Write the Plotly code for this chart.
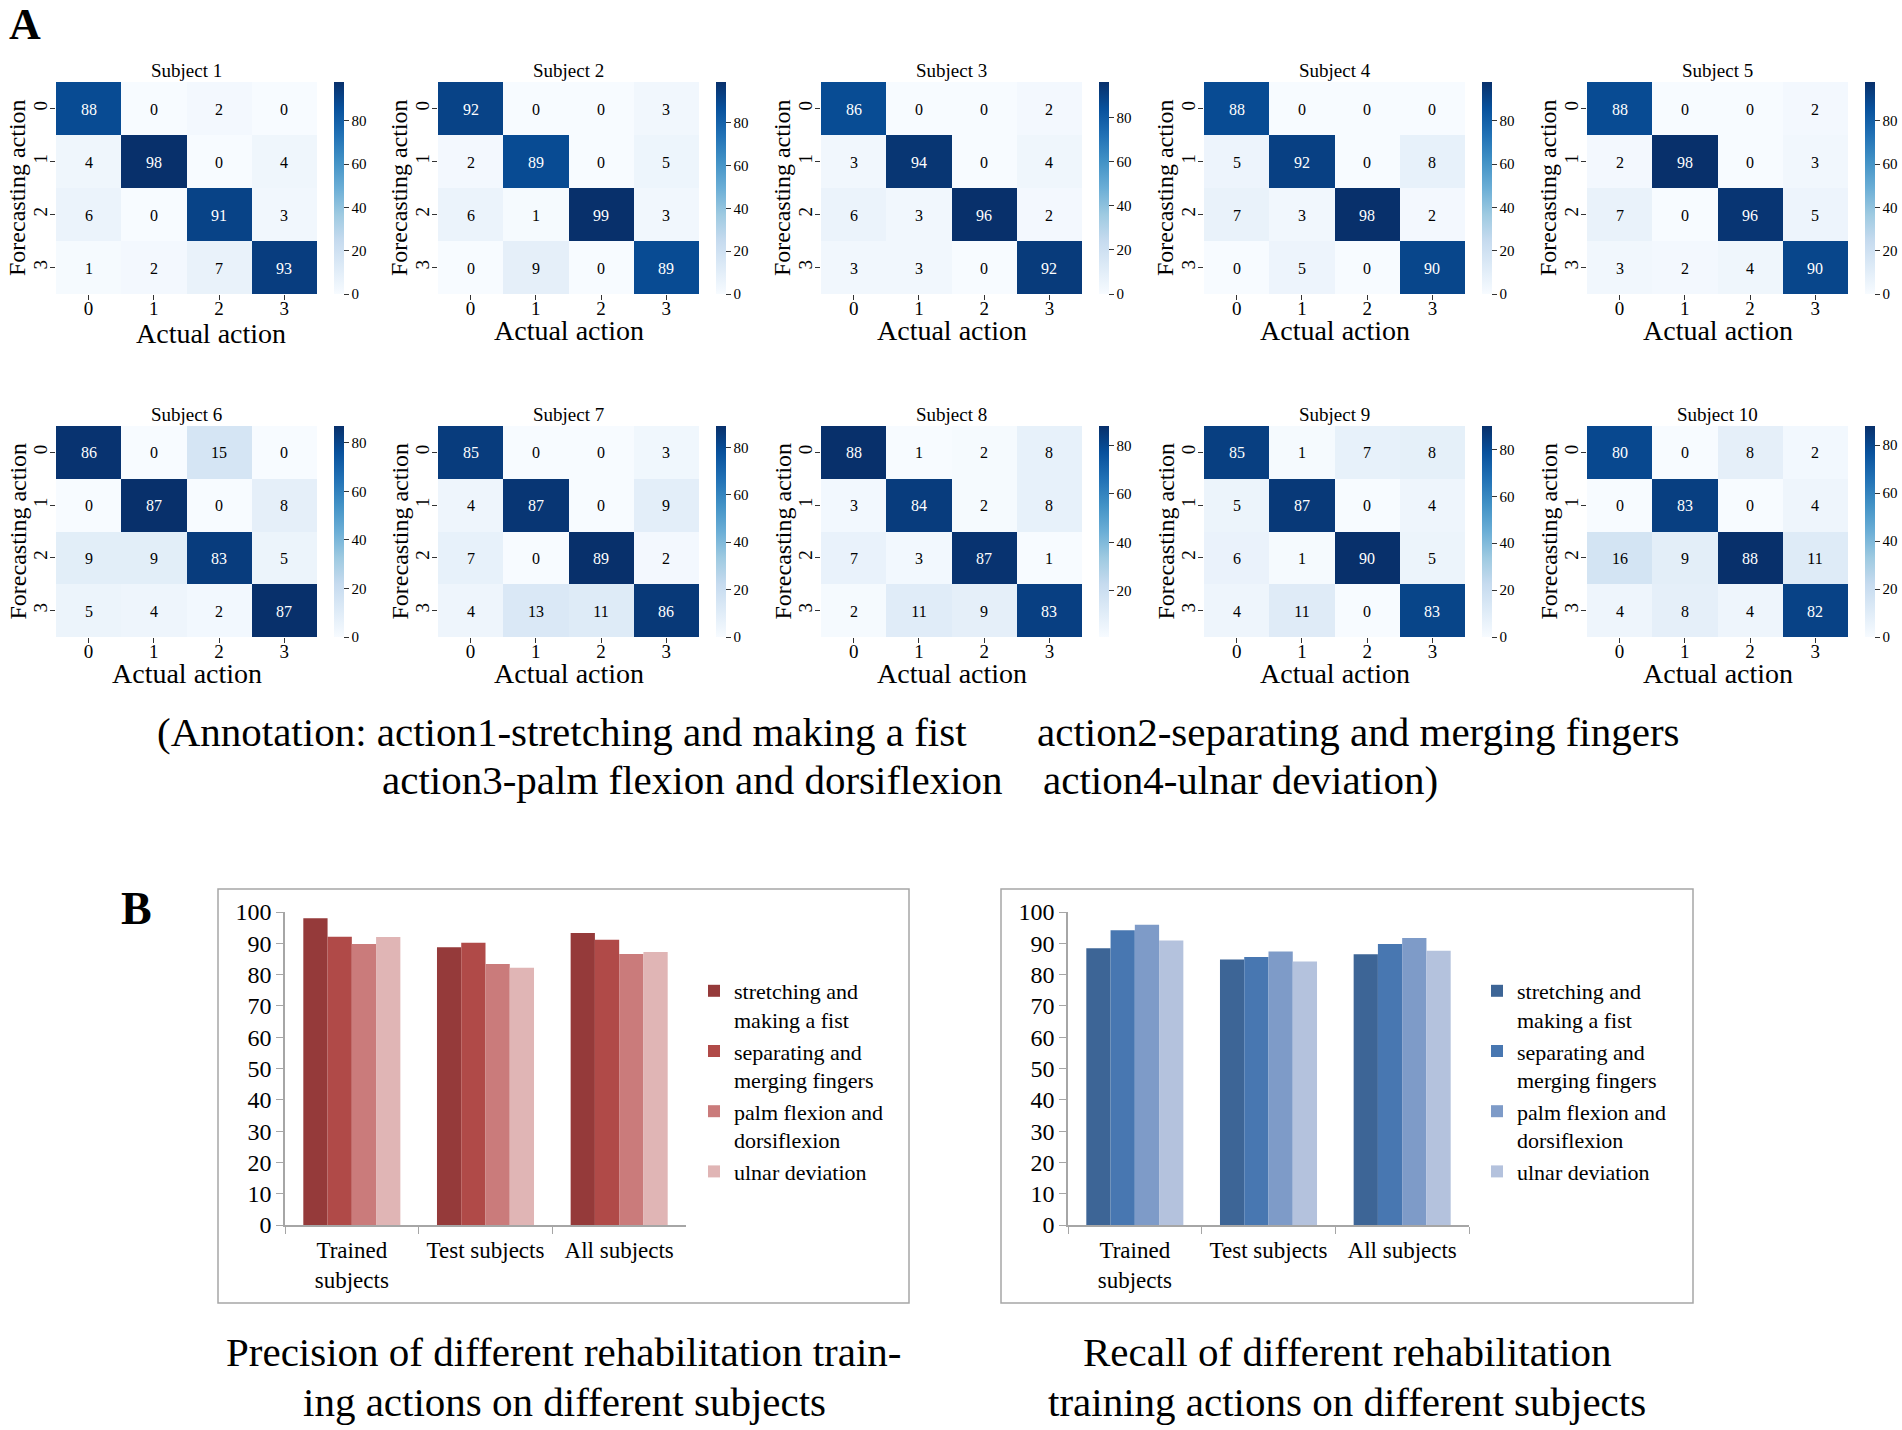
import plotly.graph_objects as go
import plotly.express as px

W = 1902
H = 1430

ticks = [0, 1, 2, 3]

# confusion matrices
subject_1 = [[88, 0, 2, 0], [4, 98, 0, 4], [6, 0, 91, 3], [1, 2, 7, 93]]
subject_2 = [[92, 0, 0, 3], [2, 89, 0, 5], [6, 1, 99, 3], [0, 9, 0, 89]]
subject_3 = [[86, 0, 0, 2], [3, 94, 0, 4], [6, 3, 96, 2], [3, 3, 0, 92]]
subject_4 = [[88, 0, 0, 0], [5, 92, 0, 8], [7, 3, 98, 2], [0, 5, 0, 90]]
subject_5 = [[88, 0, 0, 2], [2, 98, 0, 3], [7, 0, 96, 5], [3, 2, 4, 90]]
subject_6 = [[86, 0, 15, 0], [0, 87, 0, 8], [9, 9, 83, 5], [5, 4, 2, 87]]
subject_7 = [[85, 0, 0, 3], [4, 87, 0, 9], [7, 0, 89, 2], [4, 13, 11, 86]]
subject_8 = [[88, 1, 2, 8], [3, 84, 2, 8], [7, 3, 87, 1], [2, 11, 9, 83]]
subject_9 = [[85, 1, 7, 8], [5, 87, 0, 4], [6, 1, 90, 5], [4, 11, 0, 83]]
subject_10 = [[80, 0, 8, 2], [0, 83, 0, 4], [16, 9, 88, 11], [4, 8, 4, 82]]
subjects = [subject_1, subject_2, subject_3, subject_4, subject_5,
            subject_6, subject_7, subject_8, subject_9, subject_10]

# panel B
groups = ["Trained<br>subjects", "Test subjects", "All subjects"]
action_names = ["stretching and<br>making a fist", "separating and<br>merging fingers",
                "palm flexion and<br>dorsiflexion", "ulnar deviation"]
stretching_precision = [98.0, 88.7, 93.3]
separating_precision = [92.1, 90.2, 91.1]
palm_precision = [89.8, 83.4, 86.6]
ulnar_precision = [92.0, 82.2, 87.2]
stretching_recall = [88.4, 84.8, 86.5]
separating_recall = [94.2, 85.6, 89.8]
palm_recall = [95.9, 87.4, 91.7]
ulnar_recall = [90.9, 84.2, 87.6]

reds = ["#953A3A", "#B04A48", "#CA7B7B", "#E0B5B5"]
blues = ["#3D6596", "#4877B1", "#7E9BC8", "#B4C2DD"]

FONT = "Liberation Serif"
GREY = "#A6A6A6"


def fx(p):
    return p / W


def fy(p):
    return 1 - p / H


fig = go.Figure()
notes = []


def note(text, x, y, size, anchor="center", angle=0, bold=False):
    if bold:
        text = "<b>" + text + "</b>"
    notes.append(dict(text=text, x=fx(x), y=fy(y), xref="paper", yref="paper", showarrow=False,
                      xanchor=anchor, yanchor="middle", textangle=angle,
                      font=dict(family=FONT, size=size, color="black")))


def cell_labels(z):
    # black digits on light cells, white on the dark diagonal
    labels = []
    for line in z:
        labels.append(['<span style="color:%s">%d</span>' % ("white" if v > 50 else "black", v) for v in line])
    return labels


# heatmap left edges in pixels
lefts = [56, 438, 821, 1204, 1587]
tops = [82, 426]
bottoms = [294, 637]
xtitle_y = [330, 673]

for n, z in enumerate(subjects):
    row = n // 5
    left = lefts[n % 5]
    right = left + 261
    suffix = "" if n == 0 else str(n + 1)
    fig.add_trace(go.Heatmap(
        z=z, x=ticks, y=ticks, xaxis="x" + suffix, yaxis="y" + suffix,
        colorscale=px.colors.sequential.Blues,
        text=cell_labels(z), texttemplate="%{text}", textfont=dict(family=FONT, size=16),
        colorbar=dict(x=fx(left + 278), xanchor="left", xpad=0, y=fy(tops[row]), yanchor="top", ypad=0,
                      len=(bottoms[row] - tops[row]) / H, thickness=10, outlinewidth=0,
                      tick0=0, dtick=20, ticks="outside", ticklen=5, tickcolor="#333333",
                      tickfont=dict(family=FONT, size=15, color="black")),
    ))
    axis_style = dict(showgrid=False, zeroline=False, showline=False, ticks="outside", ticklen=5,
                      tickcolor="#333333", tickvals=ticks,
                      tickfont=dict(family=FONT, size=19, color="black"))
    fig.update_layout({
        "xaxis" + suffix: dict(domain=[fx(left), fx(right)], anchor="y" + suffix, ticklabelstandoff=-8, **axis_style),
        "yaxis" + suffix: dict(domain=[fy(bottoms[row]), fy(tops[row])], anchor="x" + suffix, ticklabelstandoff=-5,
                               autorange="reversed", tickangle=-90, **axis_style),
    })
    center = left + 130.5
    note("Subject " + str(n + 1), center, tops[row] - 12, 19)
    # subject 1 has its label pushed right and down in the original
    if n == 0:
        note("Actual action", 211, 333, 28)
    else:
        note("Actual action", center, xtitle_y[row], 28)
    note("Forecasting action", left - 39, (tops[row] + bottoms[row]) / 2, 24, angle=-90)

precision = [stretching_precision, separating_precision, palm_precision, ulnar_precision]
recall = [stretching_recall, separating_recall, palm_recall, ulnar_recall]

for i, name in enumerate(action_names):
    fig.add_trace(go.Bar(x=groups, y=precision[i], name=name, marker=dict(color=reds[i], line_width=0),
                         xaxis="x11", yaxis="y11", legend="legend", legendgroup="p" + str(i)))
    fig.add_trace(go.Bar(x=groups, y=recall[i], name=name, marker=dict(color=blues[i], line_width=0),
                         xaxis="x12", yaxis="y12", legend="legend2", legendgroup="r" + str(i)))

bar_x = dict(showgrid=False, zeroline=False, showline=True, linecolor=GREY, linewidth=1.5, tickson="boundaries",
             ticks="outside", ticklen=7, tickcolor=GREY, tickangle=0, ticklabelstandoff=4,
             tickfont=dict(family=FONT, size=23, color="black"))
bar_y = dict(showgrid=False, zeroline=False, showline=True, linecolor=GREY, linewidth=1.5, range=[0, 100], dtick=10,
             ticks="outside", ticklen=7, tickcolor=GREY,
             tickfont=dict(family=FONT, size=24, color="black"),
             domain=[fy(1225), fy(912)])
leg = dict(yanchor="top", xanchor="left", y=fy(970), bgcolor="rgba(0,0,0,0)", tracegroupgap=6, valign="top",
           orientation="v", traceorder="normal", font=dict(family=FONT, size=22, color="black"))

fig.update_layout(
    xaxis11=dict(domain=[fx(285), fx(686)], anchor="y11", **bar_x),
    yaxis11=dict(anchor="x11", **bar_y),
    xaxis12=dict(domain=[fx(1068), fx(1469)], anchor="y12", **bar_x),
    yaxis12=dict(anchor="x12", **bar_y),
    legend=dict(x=fx(694), **leg),
    legend2=dict(x=fx(1477), **leg),
    barmode="group", bargap=0.274, bargroupgap=0,
)

# chart frames of panel B
for x0, x1 in [(218, 909), (1001, 1693)]:
    fig.add_shape(type="rect", xref="paper", yref="paper", x0=fx(x0), x1=fx(x1), y0=fy(889), y1=fy(1303),
                  line=dict(color=GREY, width=1.5))

note("A", 25, 24, 44, bold=True)
note("B", 136, 908, 46, bold=True)
note("(Annotation: action1-stretching and making a fist", 155, 732, 41, anchor="left")
note("action2-separating and merging fingers", 1035, 732, 41, anchor="left")
note("action3-palm flexion and dorsiflexion", 380, 780, 41, anchor="left")
note("action4-ulnar deviation)", 1041, 780, 41, anchor="left")
note("Precision of different rehabilitation train-", 564, 1352, 41)
note("ing actions on different subjects", 564, 1402, 41)
note("Recall of different rehabilitation", 1347, 1352, 41)
note("training actions on different subjects", 1347, 1402, 41)

fig.update_layout(width=W, height=H, margin=dict(l=0, r=0, t=0, b=0), autosize=False,
                  paper_bgcolor="white", plot_bgcolor="white", template="none", annotations=notes)

# drop the browser's default body margin so the figure fills the page exactly
fig.write_html("out.html", config={"displayModeBar": False}, post_script="document.body.style.margin = '0';")
